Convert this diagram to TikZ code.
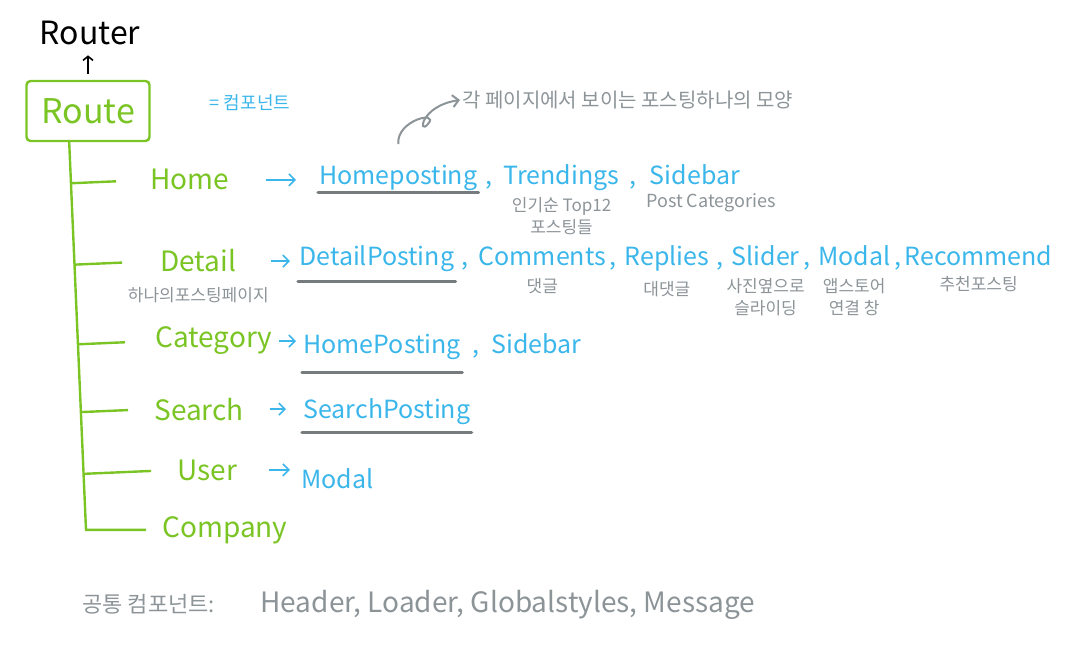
\documentclass[tikz,border=0pt]{standalone}
\usepackage{fontspec}
\setmainfont{Noto Sans CJK KR}
\usepackage{tikz}
\usetikzlibrary{arrows.meta,positioning,calc}
\definecolor{mGreen}{RGB}{122,196,36}
\definecolor{mBlue}{RGB}{58,182,235}
\definecolor{mGray}{RGB}{140,148,152}
\definecolor{mLine}{RGB}{118,124,126}

\begin{document}
\begin{tikzpicture}[
    x=0.5pt, y=-0.5pt,
    page/.style={mGreen, font=\fontsize{14}{16}\selectfont, inner sep=1pt, anchor=base west},
    item/.style={mBlue, font=\fontsize{12.5}{15}\selectfont, inner sep=0.5pt},
    sep/.style={mBlue, font=\fontsize{12.5}{15}\selectfont, inner sep=0pt},
    memo/.style={mGray, font=\fontsize{8.5}{11}\selectfont, inner sep=1pt, align=center},
    tree/.style={mGreen, line width=1.2pt},
    go/.style={mBlue, line width=0.8pt, -{Straight Barb[length=3pt,width=6pt]}},
    uline/.style={mLine, line width=1.6pt, line cap=round}
]
  \useasboundingbox (0,0) rectangle (1068,651);

  % router and route box
  \node[font=\fontsize{16}{18}\selectfont, inner sep=1pt] (router) at (90,33) {Router};
  \node[draw=mGreen, line width=1.2pt, text=mGreen, rounded corners=2pt,
        font=\fontsize{17}{20}\selectfont, minimum width=61.5pt, minimum height=30pt] (route) at (88,111) {Route};
  \draw[line width=0.8pt, -{Straight Barb[length=2pt,width=5pt]}, shorten <=3pt, shorten >=4pt]
    (route.north) -- (route.north |- router.south);
  \node[mBlue, font=\fontsize{9}{11}\selectfont, inner sep=1pt] (comp) at (250,103) {= 컴포넌트};

  % pages
  \node[page] (home) at (148,190) {Home};
  \node[page] (detail) at (158,272) {Detail};
  \node[page] (category) at (153,348) {Category};
  \node[page] (search) at (152,420) {Search};
  \node[page] (user) at (175,480) {User};
  \node[page] (company) at (160,537) {Company};

  \coordinate (tt) at ($(route.south west)!0.35!(route.south east)$);
  \coordinate (tb) at ([xshift=-37pt]company.west);
  \draw[tree, shorten >=7pt] (tt) -- (tb) -- (company.west);
  \foreach \n/\s in {home/16pt, detail/18pt, category/14pt, search/12pt, user/12pt}
    \draw[tree, shorten >=\s] ($(tt)!(\n.west)!(tb)$) -- (\n.west);

  % home row
  \node[item, anchor=base west] (hp) at (318,185) {Homeposting};
  \node[sep, base right=3pt of hp] (hc1) {,};
  \node[item, base right=5pt of hc1] (tr) {Trendings};
  \node[sep, base right=4pt of tr] (hc2) {,};
  \node[item, base right=6pt of hc2] (sb) {Sidebar};
  \node[memo, below=1pt of tr] (pop) {인기순 Top12\\포스팅들};
  \node[memo, font=\fontsize{9}{11}\selectfont, below=2pt of sb, xshift=8pt] (cats) {Post Categories};
  \draw[uline] (hp.south west) -- (hp.south east);
  \draw[go, shorten <=17pt, shorten >=11pt] (home.east) -- (home.east -| hp.west);

  \node[memo, font=\fontsize{10}{12}\selectfont, anchor=west] (shape) at (460,100) {각 페이지에서 보이는 포스팅하나의 모양};
  \draw[mGray, line width=1pt, -{Straight Barb[length=3pt,width=6pt]}]
    ([yshift=10pt]hp.north) .. controls (396,120) and (440,110) .. (428,124)
    .. controls (418,136) and (420,106) .. (shape.west);

  % detail row
  \node[item, anchor=base west] (dp) at (298,266) {DetailPosting};
  \node[sep, base right=3pt of dp] (dc1) {,};
  \node[item, base right=4pt of dc1] (cm) {Comments};
  \node[sep, base right=1pt of cm] (dc2) {,};
  \node[item, base right=3pt of dc2] (rp) {Replies};
  \node[sep, base right=3pt of rp] (dc3) {,};
  \node[item, base right=3pt of dc3] (sl) {Slider};
  \node[sep, base right=1pt of sl] (dc4) {,};
  \node[item, base right=3pt of dc4] (md) {Modal};
  \node[sep, base right=1pt of md] (dc5) {,};
  \node[item, base right=1pt of dc5] (rc) {Recommend};
  \node[memo, below=5pt of detail] (dpage) {하나의포스팅페이지};
  \node[memo, below=4pt of cm] (cmt) {댓글};
  \node[memo, below=3pt of rp] (rpl) {대댓글};
  \node[memo, below=4pt of sl] (sld) {사진옆으로\\슬라이딩};
  \node[memo, below=4pt of md] (mdl) {앱스토어\\연결 창};
  \node[memo, below=3pt of rc] (rcm) {추천포스팅};
  \draw[uline] ([yshift=-4pt]dp.south west) -- ([yshift=-4pt]dp.south east);
  \draw[go, shorten <=16pt, shorten >=4pt] (detail.east) -- (detail.east -| dp.west);

  % category row
  \node[item, anchor=base west] (cp) at (302,353) {HomePosting};
  \node[sep, base right=5pt of cp] (cc1) {,};
  \node[item, base right=5pt of cc1] (csb) {Sidebar};
  \draw[uline] ([yshift=-6pt]cp.south west) -- ([yshift=-6pt]cp.south east);
  \draw[go, shorten <=2pt, shorten >=3pt] (category.east) -- (category.east -| cp.west);

  % search row
  \node[item, anchor=base west] (sp) at (302,418) {SearchPosting};
  \draw[uline] ([yshift=-3.5pt]sp.south west) -- ([yshift=-3.5pt]sp.south east);
  \draw[go, shorten <=12pt, shorten >=8pt] (search.east) -- (search.east -| sp.west);

  % user row
  \node[item, anchor=base west] (um) at (300,488) {Modal};
  \draw[go, shorten <=15pt, shorten >=5pt] (user.east) -- (user.east -| um.west);

  % shared components
  \node[mGray, font=\fontsize{11}{13}\selectfont, anchor=base west, inner sep=1pt] (shared) at (80,612) {공통 컴포넌트:};
  \node[mGray, font=\fontsize{14}{16}\selectfont, anchor=base west, inner sep=1pt] (list) at (258,612) {Header, Loader, Globalstyles, Message};
\end{tikzpicture}
\end{document}
